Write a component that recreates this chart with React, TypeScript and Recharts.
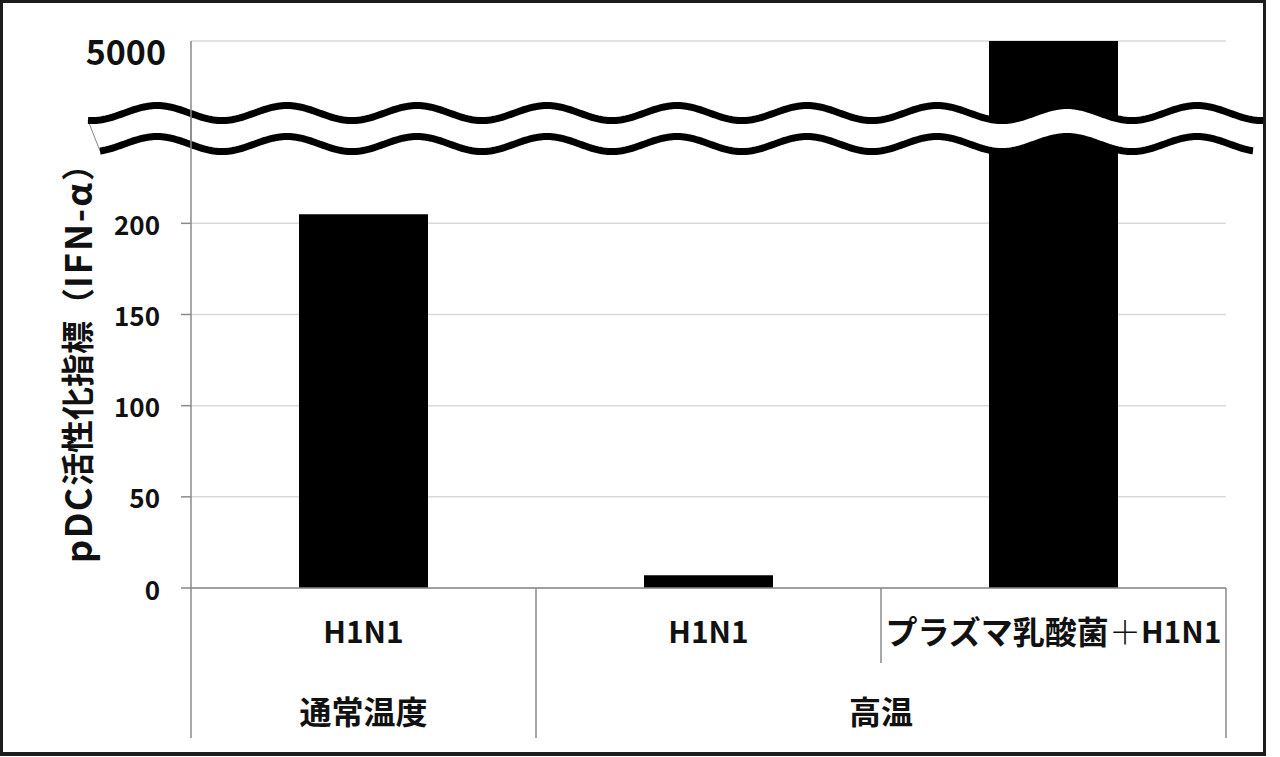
import React from 'react';
import { BarChart, Bar, XAxis, YAxis, CartesianGrid, ReferenceLine } from 'recharts';

// ---- data ----
const categories = ['H1N1', 'H1N1', 'プラズマ乳酸菌＋H1N1'];
const groups = ['通常温度', '高温', '高温'];
const values = [205, 7, 5000];
const lowTicks = [0, 50, 100, 150, 200];
const topTick = 5000;
const yTitleParts = ['pDC', '活性化指標（', 'IFN-α', '）'];

// ---- broken axis mapping (linear up to BREAK_LOW, compressed above) ----
const BREAK_LOW = 250;
const AXIS_MAX = 300;
const BREAK_MID = 252;
const toAxis = (v: number) =>
  v <= BREAK_LOW ? v : BREAK_LOW + ((v - BREAK_LOW) / (topTick - BREAK_LOW)) * (AXIS_MAX - BREAK_LOW);
const fromAxis = (a: number) =>
  a <= BREAK_LOW ? a : Math.round(BREAK_LOW + ((a - BREAK_LOW) / (AXIS_MAX - BREAK_LOW)) * (topTick - BREAK_LOW));

const data = categories.map((c, i) => ({ idx: i, name: c, group: groups[i], raw: values[i], plot: toAxis(values[i]) }));
const yTicks = [...lowTicks.map(toAxis), toAxis(topTick)];

// ---- layout ----
const W = 1280;
const H = 757;
const MARGIN = { top: 41, right: 54, bottom: 19, left: 0 };
const Y_W = 191;
const X_H = 150;
const PLOT_W = W - MARGIN.left - MARGIN.right - Y_W;
const BAND = PLOT_W / categories.length;
const FONT = "'Noto Sans CJK JP', 'Noto Sans', sans-serif";
const AXIS_C = '#8a8a8a';
const Y_TICK_SIZE = 10;
const Y_TICK_MARGIN = 21;

function XTick(props: any) {
  const { x, y, payload } = props;
  const i = Number(payload.value);
  const els: React.ReactNode[] = [];
  const label = categories[i];
  const plusIdx = label.indexOf('＋');
  els.push(
    <text key="t" x={x} y={y + 42} textAnchor="middle" dominantBaseline="central" fontSize={30} fontWeight={700} fill="#111" fontFamily={FONT}>
      {plusIdx >= 0 ? (
        <>
          <tspan fontSize={32}>{label.slice(0, plusIdx)}</tspan>
          <tspan fontSize={32} fontWeight={300}>＋</tspan>
          <tspan>{label.slice(plusIdx + 1)}</tspan>
        </>
      ) : (
        label
      )}
    </text>
  );
  if (i === 0) {
    els.push(<line key="l" x1={x - BAND / 2} x2={x - BAND / 2} y1={y} y2={y + 150} stroke={AXIS_C} strokeWidth={1.5} />);
  }
  const last = i === categories.length - 1;
  const groupEnd = last || groups[i + 1] !== groups[i];
  els.push(
    <line key="r" x1={x + BAND / 2} x2={x + BAND / 2} y1={y} y2={y + (groupEnd ? 150 : 75)} stroke={AXIS_C} strokeWidth={1.5} />
  );
  if (i === 0 || groups[i - 1] !== groups[i]) {
    let j = i;
    while (j + 1 < groups.length && groups[j + 1] === groups[i]) j++;
    const cx = x + ((j - i) * BAND) / 2;
    els.push(
      <text key="g" x={cx} y={y + 122} textAnchor="middle" dominantBaseline="central" fontSize={32} fontWeight={700} fill="#111" fontFamily={FONT}>
        {groups[i]}
      </text>
    );
  }
  return <g>{els}</g>;
}

function YTick(props: any) {
  const { x, y, payload } = props;
  const isTop = payload.value === toAxis(topTick);
  const axisX = x + Y_TICK_MARGIN + Y_TICK_SIZE;
  return (
    <g>
      {!isTop && <line x1={axisX - Y_TICK_SIZE} x2={axisX} y1={y} y2={y} stroke={AXIS_C} strokeWidth={1.5} />}
      <text
        x={x + (isTop ? 6 : 0)}
        y={y + (isTop ? 9 : 0)}
        textAnchor="end"
        dominantBaseline="central"
        fontSize={isTop ? 34 : 26}
        fontWeight={700}
        fill="#111"
        fontFamily={FONT}
      >
        {fromAxis(payload.value)}
      </text>
    </g>
  );
}

function YTitle(props: any) {
  const vb = props.viewBox || { x: 0, y: MARGIN.top, width: Y_W, height: 547 };
  const cx = vb.x + 76;
  const cy = vb.y + vb.height / 2 + 41;
  return (
    <text
      x={cx}
      y={cy}
      transform={`rotate(-90, ${cx}, ${cy})`}
      textAnchor="middle"
      dominantBaseline="central"
      fontSize={33}
      fontWeight={700}
      fill="#111"
      fontFamily={FONT}
    >
      <tspan fontSize={36} letterSpacing={1.5}>{yTitleParts[0]}</tspan>
      <tspan>{yTitleParts[1]}</tspan>
      <tspan fontSize={36} letterSpacing={2}>{yTitleParts[2]}</tspan>
      <tspan>{yTitleParts[3]}</tspan>
    </text>
  );
}

function BreakMark(props: any) {
  const { x1, x2, y1 } = props;
  const period = 130;
  const phase = x1 - 34;
  const amp = 7.5;
  const off = 15.5;
  const up = (x: number) => y1 - off - amp * Math.cos((2 * Math.PI * (x - phase)) / period);
  const lo = (x: number) => y1 + off - amp * Math.cos((2 * Math.PI * (x - phase)) / period);
  const pts = (f: (x: number) => number, a: number, b: number) => {
    const arr: string[] = [];
    for (let x = a; x <= b; x += 2) arr.push(`${x.toFixed(1)},${f(x).toFixed(1)}`);
    arr.push(`${b.toFixed(1)},${f(b).toFixed(1)}`);
    return arr;
  };
  const uA = x1 - 103;
  const uB = x2 + 37;
  const lA = x1 - 91;
  const lB = x2 + 27;
  const upPts = pts(up, uA, uB);
  const loPts = pts(lo, lA, lB);
  const band = [...pts(up, lA, lB), ...pts(lo, lA, lB).reverse()].join(' ');
  return (
    <g>
      <polygon points={band} fill="#fff" stroke="none" />
      <line x1={uA} y1={up(uA)} x2={lA} y2={lo(lA)} stroke="#888" strokeWidth={1} />
      <line x1={x1} y1={up(x1)} x2={x1} y2={lo(x1)} stroke={AXIS_C} strokeWidth={1.5} />
      <polyline points={upPts.join(' ')} fill="none" stroke="#000" strokeWidth={7} />
      <polyline points={loPts.join(' ')} fill="none" stroke="#000" strokeWidth={7} />
    </g>
  );
}

export default function App() {
  return (
    <div style={{ position: 'absolute', left: 0, top: 0, width: W, height: H, background: '#fff' }}>
      <div
        style={{
          position: 'absolute',
          left: 0,
          top: 0,
          width: 1266,
          height: 756,
          border: '3px solid #1c1c1c',
          borderBottomWidth: 4,
          boxSizing: 'border-box',
        }}
      />
      <div style={{ position: 'absolute', left: 0, top: 0 }}>
        <BarChart width={W} height={H} data={data} margin={MARGIN}>
          <CartesianGrid horizontal vertical={false} stroke="#d9d9d9" strokeWidth={1.5} />
          <XAxis
            dataKey="idx"
            type="category"
            height={X_H}
            tickLine={false}
            tickSize={0}
            tickMargin={0}
            axisLine={{ stroke: AXIS_C, strokeWidth: 1.5 }}
            tick={<XTick />}
            interval={0}
          />
          <YAxis
            width={Y_W}
            domain={[0, AXIS_MAX]}
            ticks={yTicks}
            type="number"
            allowDataOverflow
            tickLine={false}
            tickSize={Y_TICK_SIZE}
            tickMargin={Y_TICK_MARGIN}
            axisLine={{ stroke: AXIS_C, strokeWidth: 1.5 }}
            tick={<YTick />}
            interval={0}
            label={{ content: (p: any) => <YTitle {...p} /> }}
          />
          <Bar dataKey="plot" fill="#000" barSize={129} isAnimationActive={false} />
          <ReferenceLine y={BREAK_MID} ifOverflow="visible" shape={(p: any) => <BreakMark {...p} />} />
        </BarChart>
      </div>
    </div>
  );
}
